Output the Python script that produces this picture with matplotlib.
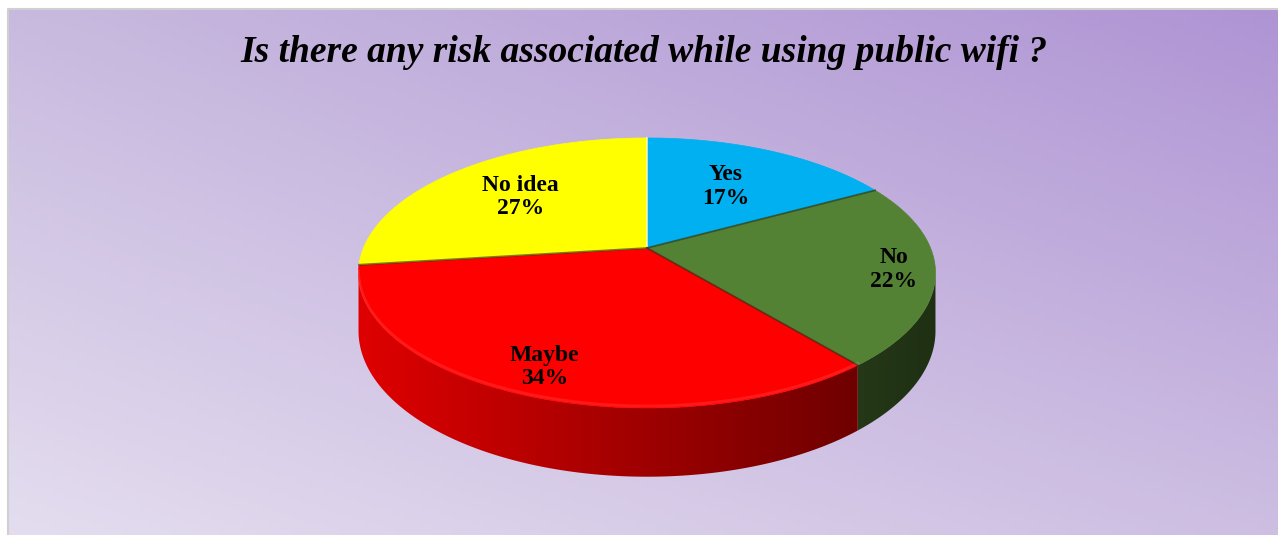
import numpy as np
import matplotlib
matplotlib.use("Agg")
import matplotlib.pyplot as plt
from matplotlib.patches import Polygon

title = "Is there any risk associated while using public wifi ?"
labels = ["Yes", "No", "Maybe", "No idea"]
shares = [17, 22, 34, 27]
colors = ["#00B0F0", "#548235", "#FF0000", "#FFFF00"]

# pie geometry in pixels (perspective tilted disc)
cx, cy = 647, 248
R, Ry = 283.5, 130.4
p = 0.185
D = 56
label_r = [0.60, 0.86, 0.84, 0.64]

W, H = 1278, 535


def proj(theta, r=1.0):
    s = np.sin(theta) * r
    w = 1 + p * s
    return cx + R * np.cos(theta) * r / w, cy - Ry * s / w, w


fig = plt.figure(figsize=(W / 100, H / 100), dpi=100, facecolor="white")
ax = fig.add_axes([0, 0, 1, 1])
ax.set_xlim(0, W)
ax.set_ylim(H, 0)
ax.axis("off")

# background gradient (corner colours, bilinear)
tl = np.array([200, 186, 223]) / 255
tr = np.array([175, 148, 212]) / 255
bl = np.array([228, 221, 239]) / 255
br = np.array([205, 190, 226]) / 255
u = np.linspace(0, 1, 200)[None, :, None]
v = np.linspace(0, 1, 100)[:, None, None]
img = (1 - v) * ((1 - u) * tl + u * tr) + v * ((1 - u) * bl + u * br)
ax.imshow(img, extent=[8, W, H, 9], aspect="auto", zorder=0)
ax.plot([7.5, 7.5, W], [H, 9, 9], color="#d0d0d0", lw=1.5, zorder=1)

# slice angles, start at 12 o'clock, clockwise
fracs = np.array(shares) / sum(shares)
bounds = np.pi / 2 - 2 * np.pi * np.concatenate([[0], np.cumsum(fracs)])

# side walls: only the part in front of the silhouette, shaded left->right
xg = np.linspace(cx - R * 1.05, cx + R * 1.05, 400)
shade = np.clip(0.62 - 0.25 * (xg - cx) / R, 0.3, 0.9)
for i in range(len(shares)):
    ts = np.linspace(bounds[i], bounds[i + 1], 400)
    ts = ts[np.sin(ts) < -p + 0.005]
    if len(ts) < 2:
        continue
    xs, ys, ws = proj(ts)
    top = list(zip(xs, ys))
    bot = list(zip(xs, ys + D / ws))[::-1]
    poly = Polygon(top + bot, closed=True, facecolor="none", edgecolor="none")
    ax.add_patch(poly)
    base = np.array(matplotlib.colors.to_rgb(colors[i]))
    grad = (shade[:, None] * base[None, :])[None, :, :]
    im = ax.imshow(grad, extent=[xg[0], xg[-1], cy + Ry * 2, cy - 10],
                   aspect="auto", zorder=2, interpolation="bilinear")
    im.set_clip_path(poly)

# top face
for i in range(len(shares)):
    ts = np.linspace(bounds[i], bounds[i + 1], 200)
    xs, ys, _ = proj(ts)
    pts = [(cx, cy)] + list(zip(xs, ys))
    ax.add_patch(Polygon(pts, closed=True, facecolor=colors[i],
                         edgecolor=colors[i], lw=0.5, zorder=3))

# slice borders on the top face
for i, b in enumerate(bounds[:-1]):
    x, y, _ = proj(b)
    col = (1, 1, 1, 0.6) if i == 0 else (0.15, 0.2, 0.1, 0.6)
    ax.plot([cx, x], [cy, y], color=col, lw=1.3, zorder=4)

# faint rim highlight on the front of the red slice
ts = np.linspace(np.pi + np.arcsin(p), 2 * np.pi + bounds[2], 300)
xs, ys, _ = proj(ts)
ax.plot(xs, ys - 2, color="white", alpha=0.1, lw=2, zorder=4)

# data labels
for i in range(len(shares)):
    tm = (bounds[i] + bounds[i + 1]) / 2
    x, y, _ = proj(tm, label_r[i])
    ax.text(x, y, f"{labels[i]}\n{shares[i]}%", ha="center", va="center",
            family="Liberation Serif", fontweight="bold", fontsize=17,
            linespacing=1.15, color="black", zorder=5)

ax.text(644, 52, title, ha="center", va="center", family="Liberation Serif",
        fontweight="bold", fontstyle="italic", fontsize=27, color="black",
        zorder=5)

fig.savefig("out.png", dpi=100, facecolor="white")
